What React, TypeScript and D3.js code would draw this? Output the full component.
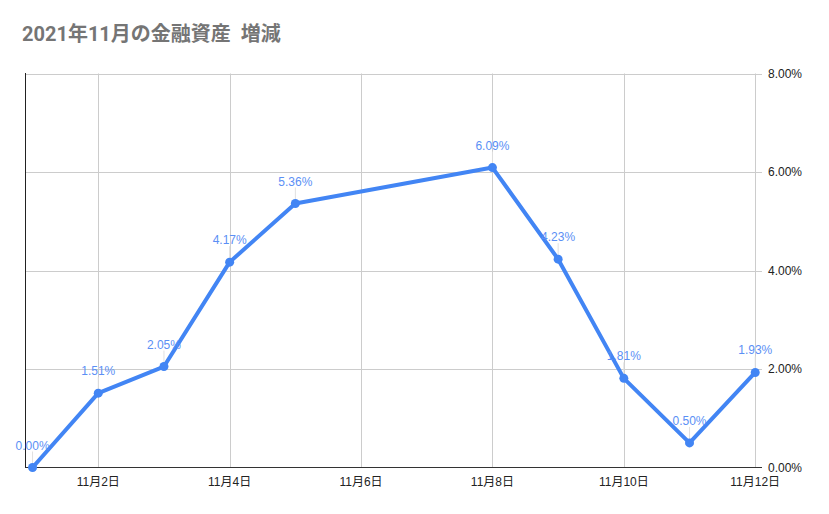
import React from "react";
import * as d3 from "d3";

const title = "2021年11月の金融資産  増減";
const days = [1, 2, 3, 4, 5, 8, 9, 10, 11, 12];
const values = [0.0, 1.51, 2.05, 4.17, 5.36, 6.09, 4.23, 1.81, 0.5, 1.93];
const xTicks = [2, 4, 6, 8, 10, 12];
const yTicks = [0, 2, 4, 6, 8];

const W = 829;
const H = 514;
const LEFT = 25;
const RIGHT = 762;
const TOP = 73.5;
const BOTTOM = 467.5;
const LINE = "#4285F4";
const FONT = "Roboto, 'Noto Sans CJK JP', Arial, sans-serif";
const LFONT = "'Liberation Sans', Arial, 'Noto Sans CJK JP', sans-serif";

export default function App() {
  const x = d3.scaleLinear().domain([0.885, 12.103]).range([LEFT, RIGHT]);
  const y = d3.scaleLinear().domain([0, 8]).range([BOTTOM, TOP]);
  const pts = days.map((d, i) => [x(d), y(values[i])] as [number, number]);
  const line = d3.line()(pts) || "";
  const fmt = (v: number) => v.toFixed(2) + "%";

  return (
    <svg
      width={W}
      height={H}
      style={{ position: "absolute", left: 0, top: 0, background: "#fff" }}
    >
      <rect x={0} y={0} width={W} height={H} fill="#fff" />
      <text
        x={22}
        y={41}
        fontFamily={FONT}
        fontWeight="bold"
        fontSize={20}
        fill="#757575"
        style={{ whiteSpace: "pre" }}
      >
        {title}
      </text>
      {yTicks.filter((t) => t !== 0).map((t) => (
        <line key={"h" + t} x1={LEFT} x2={RIGHT} y1={Math.round(y(t)) + 0.5} y2={Math.round(y(t)) + 0.5} stroke="#cccccc" />
      ))}
      {xTicks.map((t) => (
        <line key={"v" + t} x1={Math.round(x(t)) + 0.5} x2={Math.round(x(t)) + 0.5} y1={TOP} y2={BOTTOM} stroke="#cccccc" />
      ))}
      <line x1={LEFT} x2={RIGHT} y1={BOTTOM} y2={BOTTOM} stroke="#333" />
      <line x1={LEFT + 0.5} x2={LEFT + 0.5} y1={TOP - 0.5} y2={BOTTOM} stroke="#222" />
      {yTicks.map((t) => (
        <text key={"yl" + t} x={768} y={y(t) + 4} fontFamily={LFONT} fontSize={12} fill="#222">
          {fmt(t)}
        </text>
      ))}
      {xTicks.map((t) => (
        <text key={"xl" + t} x={x(t)} y={486} textAnchor="middle" fontFamily={LFONT} fontSize={12} fill="#222">
          {`11月${t}日`}
        </text>
      ))}
      {pts.map(([px, py], i) => (
        <line key={"ld" + i} x1={px} x2={px} y1={py - 16} y2={py - 4} stroke="#e0e0e0" />
      ))}
      <path d={line} fill="none" stroke={LINE} strokeWidth={4} strokeLinejoin="round" />
      {pts.map(([px, py], i) => (
        <circle key={"c" + i} cx={px} cy={py} r={4.5} fill={LINE} />
      ))}
      {pts.map(([px, py], i) => (
        <text key={"dl" + i} x={px} y={py - 18} textAnchor="middle" fontFamily={LFONT} fontSize={12} fill="#5b8ff5">
          {fmt(values[i])}
        </text>
      ))}
    </svg>
  );
}
